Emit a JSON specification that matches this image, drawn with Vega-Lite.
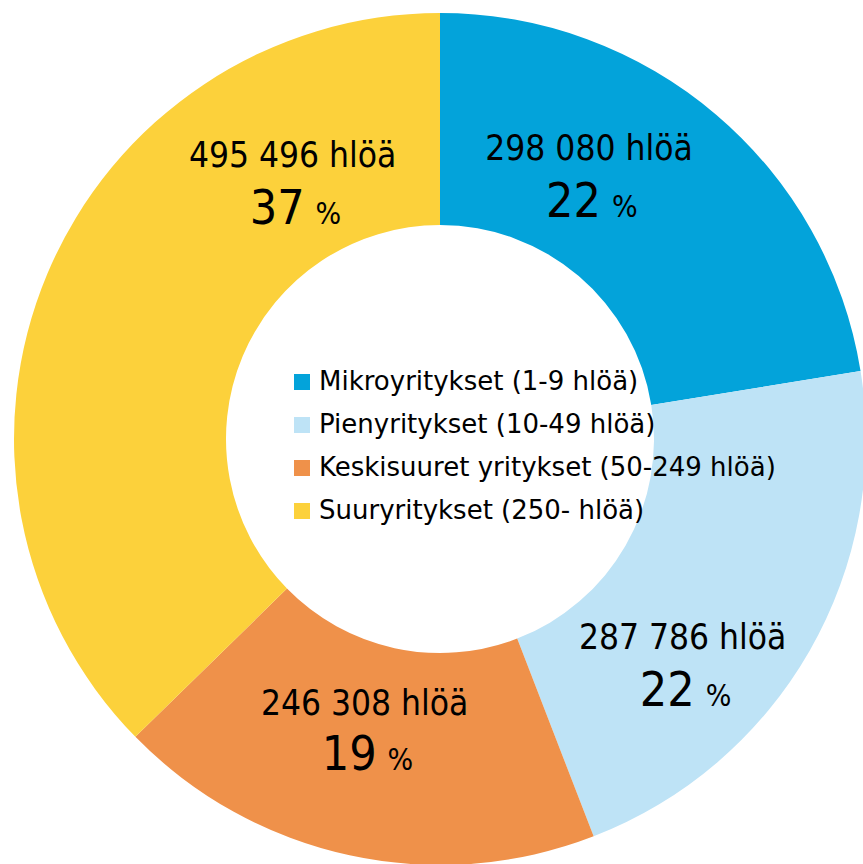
{
  "$schema": "https://vega.github.io/schema/vega-lite/v6.json",
  "width": 846,
  "height": 850,
  "padding": {"left": 17, "top": 14, "right": 0, "bottom": 0},
  "autosize": "none",
  "background": "white",
  "config": {"view": {"stroke": null}, "text": {"font": "DejaVu Sans Condensed", "fill": "#000000", "baseline": "alphabetic"}},
  "data": {"values": [
    {"cat": "Mikroyritykset (1-9 hlöä)", "i": 1, "value": 298080, "label": "298 080 hlöä", "pct": "22", "p": "%"},
    {"cat": "Pienyritykset (10-49 hlöä)", "i": 2, "value": 287786, "label": "287 786 hlöä", "pct": "22", "p": "%"},
    {"cat": "Keskisuuret yritykset (50-249 hlöä)", "i": 3, "value": 246308, "label": "246 308 hlöä", "pct": "19", "p": "%"},
    {"cat": "Suuryritykset (250- hlöä)", "i": 4, "value": 495496, "label": "495 496 hlöä", "pct": "37", "p": "%"}
  ]},
  "encoding": {
    "theta": {"field": "value", "type": "quantitative", "stack": true},
    "order": {"field": "i", "type": "ordinal"},
    "detail": {"field": "cat", "type": "nominal"}
  },
  "layer": [
    {
      "mark": {"type": "arc", "outerRadius": 426, "innerRadius": 214},
      "encoding": {
        "color": {
          "field": "cat", "type": "nominal",
          "scale": {
            "domain": ["Mikroyritykset (1-9 hlöä)", "Pienyritykset (10-49 hlöä)", "Keskisuuret yritykset (50-249 hlöä)", "Suuryritykset (250- hlöä)"],
            "range": ["#03A3DA", "#BEE3F6", "#EF914A", "#FCD13B"]
          },
          "legend": {
            "orient": "none", "legendX": 272, "legendY": 355, "title": null,
            "symbolType": "square", "symbolSize": 256, "symbolStrokeWidth": 0,
            "labelFont": "DejaVu Sans", "labelFontSize": 26, "labelColor": "#000000",
            "rowPadding": 17, "labelOffset": 4, "padding": 0, "labelLimit": 0
          }
        }
      }
    },
    {"mark": {"type": "text", "fontSize": 35, "align": "center", "dx": -63, "dy": -30}, "encoding": {"radius": {"value": 327}, "text": {"condition": {"test": "datum.i == 1", "field": "label"}, "value": ""}}},
    {"mark": {"type": "text", "fontSize": 48, "align": "right", "dx": -51, "dy": 27}, "encoding": {"radius": {"value": 327}, "text": {"condition": {"test": "datum.i == 1", "field": "pct"}, "value": ""}}},
    {"mark": {"type": "text", "fontSize": 30, "align": "left", "dx": -40, "dy": 27}, "encoding": {"radius": {"value": 327}, "text": {"condition": {"test": "datum.i == 1", "field": "p"}, "value": ""}}},

    {"mark": {"type": "text", "fontSize": 35, "align": "center", "dx": -41, "dy": 47}, "encoding": {"radius": {"value": 327}, "text": {"condition": {"test": "datum.i == 2", "field": "label"}, "value": ""}}},
    {"mark": {"type": "text", "fontSize": 48, "align": "right", "dx": -29, "dy": 104}, "encoding": {"radius": {"value": 327}, "text": {"condition": {"test": "datum.i == 2", "field": "pct"}, "value": ""}}},
    {"mark": {"type": "text", "fontSize": 30, "align": "left", "dx": -18, "dy": 104}, "encoding": {"radius": {"value": 327}, "text": {"condition": {"test": "datum.i == 2", "field": "p"}, "value": ""}}},

    {"mark": {"type": "text", "fontSize": 35, "align": "center", "dx": -6, "dy": -44}, "encoding": {"radius": {"value": 327}, "text": {"condition": {"test": "datum.i == 3", "field": "label"}, "value": ""}}},
    {"mark": {"type": "text", "fontSize": 48, "align": "right", "dx": 6, "dy": 11}, "encoding": {"radius": {"value": 327}, "text": {"condition": {"test": "datum.i == 3", "field": "pct"}, "value": ""}}},
    {"mark": {"type": "text", "fontSize": 30, "align": "left", "dx": 17, "dy": 11}, "encoding": {"radius": {"value": 327}, "text": {"condition": {"test": "datum.i == 3", "field": "p"}, "value": ""}}},

    {"mark": {"type": "text", "fontSize": 35, "align": "center", "dx": 154, "dy": -145}, "encoding": {"radius": {"value": 327}, "text": {"condition": {"test": "datum.i == 4", "field": "label"}, "value": ""}}},
    {"mark": {"type": "text", "fontSize": 48, "align": "right", "dx": 166, "dy": -88}, "encoding": {"radius": {"value": 327}, "text": {"condition": {"test": "datum.i == 4", "field": "pct"}, "value": ""}}},
    {"mark": {"type": "text", "fontSize": 30, "align": "left", "dx": 177, "dy": -88}, "encoding": {"radius": {"value": 327}, "text": {"condition": {"test": "datum.i == 4", "field": "p"}, "value": ""}}}
  ]
}
